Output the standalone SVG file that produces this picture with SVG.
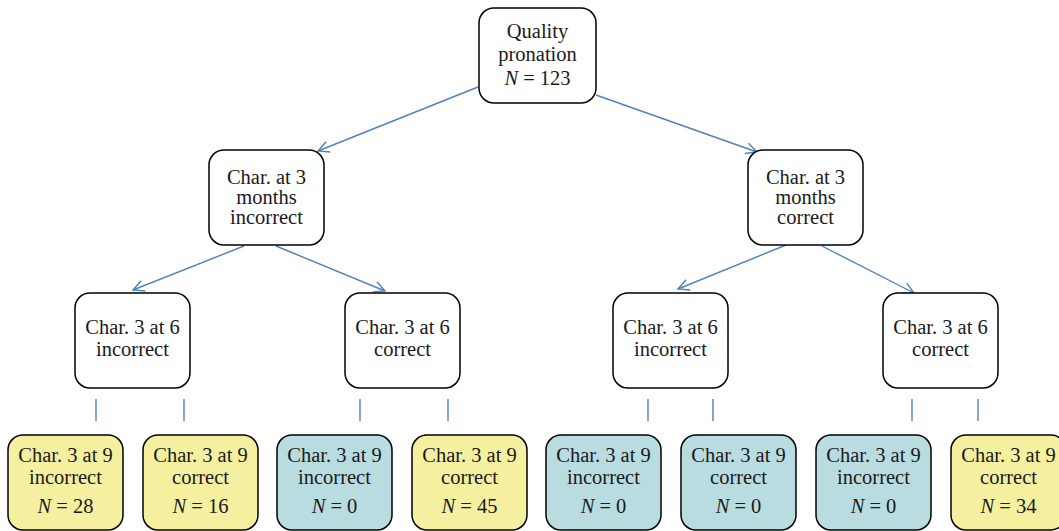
<svg xmlns="http://www.w3.org/2000/svg" width="1059" height="531" viewBox="0 0 1059 531">
<style>
.b{fill:#fff;stroke:#000;stroke-width:1.5}
.y{fill:#f4f0a0;stroke:#000;stroke-width:1.5}
.c{fill:#b9dce0;stroke:#000;stroke-width:1.5}
.t{font-family:"Liberation Serif",serif;font-size:20.5px;fill:#1a1a1a;text-anchor:middle}
.i{font-style:italic}
.e{stroke:#4f81bd;stroke-width:1.4;fill:none}
</style>
<defs>
<marker id="a" markerUnits="userSpaceOnUse" markerWidth="14" markerHeight="14" refX="12" refY="6" orient="auto" viewBox="0 0 14 12">
<path d="M1,0.5 L12,6 L1,11.5" fill="none" stroke="#4f81bd" stroke-width="1.4"/>
</marker>
</defs>
<g id="connectors">
<line class="e" x1="478" y1="87" x2="318" y2="151" marker-end="url(#a)"/>
<line class="e" x1="596" y1="95" x2="757" y2="152" marker-end="url(#a)"/>
<line class="e" x1="244" y1="246" x2="133" y2="290" marker-end="url(#a)"/>
<line class="e" x1="276" y1="246" x2="385" y2="291" marker-end="url(#a)"/>
<line class="e" x1="786" y1="245" x2="678" y2="289" marker-end="url(#a)"/>
<line class="e" x1="822" y1="246" x2="914" y2="293" marker-end="url(#a)"/>
<line class="e" x1="96" y1="399" x2="96" y2="421"/>
<line class="e" x1="184" y1="399" x2="184" y2="421"/>
<line class="e" x1="360" y1="399" x2="360" y2="421"/>
<line class="e" x1="448" y1="399" x2="448" y2="421"/>
<line class="e" x1="648" y1="399" x2="648" y2="421"/>
<line class="e" x1="713" y1="399" x2="713" y2="421"/>
<line class="e" x1="912" y1="399" x2="912" y2="421"/>
<line class="e" x1="978" y1="399" x2="978" y2="421"/>
</g>
<g id="root">
<rect class="b" x="479" y="8" width="117" height="95" rx="15"/>
<text class="t" x="537.5" y="38">Quality</text>
<text class="t" x="537.5" y="61">pronation</text>
<text class="t" x="537.5" y="85"><tspan class="i">N</tspan> = 123</text>
</g>
<g id="m3-incorrect">
<rect class="b" x="209" y="150" width="115" height="95" rx="15"/>
<text class="t" x="266.5" y="184">Char. at 3</text>
<text class="t" x="266.5" y="204">months</text>
<text class="t" x="266.5" y="224">incorrect</text>
</g>
<g id="m3-correct">
<rect class="b" x="748" y="150" width="115" height="95" rx="15"/>
<text class="t" x="805.5" y="184">Char. at 3</text>
<text class="t" x="805.5" y="204">months</text>
<text class="t" x="805.5" y="224">correct</text>
</g>
<g id="m6-a">
<rect class="b" x="75" y="293" width="115" height="95" rx="15"/>
<text class="t" x="132.5" y="334">Char. 3 at 6</text>
<text class="t" x="132.5" y="356">incorrect</text>
</g>
<g id="m6-b">
<rect class="b" x="345" y="293" width="115" height="95" rx="15"/>
<text class="t" x="402.5" y="334">Char. 3 at 6</text>
<text class="t" x="402.5" y="356">correct</text>
</g>
<g id="m6-c">
<rect class="b" x="613" y="293" width="115" height="95" rx="15"/>
<text class="t" x="670.5" y="334">Char. 3 at 6</text>
<text class="t" x="670.5" y="356">incorrect</text>
</g>
<g id="m6-d">
<rect class="b" x="883" y="293" width="115" height="95" rx="15"/>
<text class="t" x="940.5" y="334">Char. 3 at 6</text>
<text class="t" x="940.5" y="356">correct</text>
</g>
<g id="m9-1">
<rect class="y" x="8" y="435" width="115" height="95" rx="15"/>
<text class="t" x="65.5" y="462">Char. 3 at 9</text>
<text class="t" x="65.5" y="484">incorrect</text>
<text class="t" x="65.5" y="513"><tspan class="i">N</tspan> = 28</text>
</g>
<g id="m9-2">
<rect class="y" x="143" y="435" width="115" height="95" rx="15"/>
<text class="t" x="200.5" y="462">Char. 3 at 9</text>
<text class="t" x="200.5" y="484">correct</text>
<text class="t" x="200.5" y="513"><tspan class="i">N</tspan> = 16</text>
</g>
<g id="m9-3">
<rect class="c" x="277" y="435" width="115" height="95" rx="15"/>
<text class="t" x="334.5" y="462">Char. 3 at 9</text>
<text class="t" x="334.5" y="484">incorrect</text>
<text class="t" x="334.5" y="513"><tspan class="i">N</tspan> = 0</text>
</g>
<g id="m9-4">
<rect class="y" x="412" y="435" width="115" height="95" rx="15"/>
<text class="t" x="469.5" y="462">Char. 3 at 9</text>
<text class="t" x="469.5" y="484">correct</text>
<text class="t" x="469.5" y="513"><tspan class="i">N</tspan> = 45</text>
</g>
<g id="m9-5">
<rect class="c" x="546" y="435" width="115" height="95" rx="15"/>
<text class="t" x="603.5" y="462">Char. 3 at 9</text>
<text class="t" x="603.5" y="484">incorrect</text>
<text class="t" x="603.5" y="513"><tspan class="i">N</tspan> = 0</text>
</g>
<g id="m9-6">
<rect class="c" x="681" y="435" width="115" height="95" rx="15"/>
<text class="t" x="738.5" y="462">Char. 3 at 9</text>
<text class="t" x="738.5" y="484">correct</text>
<text class="t" x="738.5" y="513"><tspan class="i">N</tspan> = 0</text>
</g>
<g id="m9-7">
<rect class="c" x="816" y="435" width="115" height="95" rx="15"/>
<text class="t" x="873.5" y="462">Char. 3 at 9</text>
<text class="t" x="873.5" y="484">incorrect</text>
<text class="t" x="873.5" y="513"><tspan class="i">N</tspan> = 0</text>
</g>
<g id="m9-8">
<rect class="y" x="951" y="435" width="115" height="95" rx="15"/>
<text class="t" x="1008.5" y="462">Char. 3 at 9</text>
<text class="t" x="1008.5" y="484">correct</text>
<text class="t" x="1008.5" y="513"><tspan class="i">N</tspan> = 34</text>
</g>
</svg>
